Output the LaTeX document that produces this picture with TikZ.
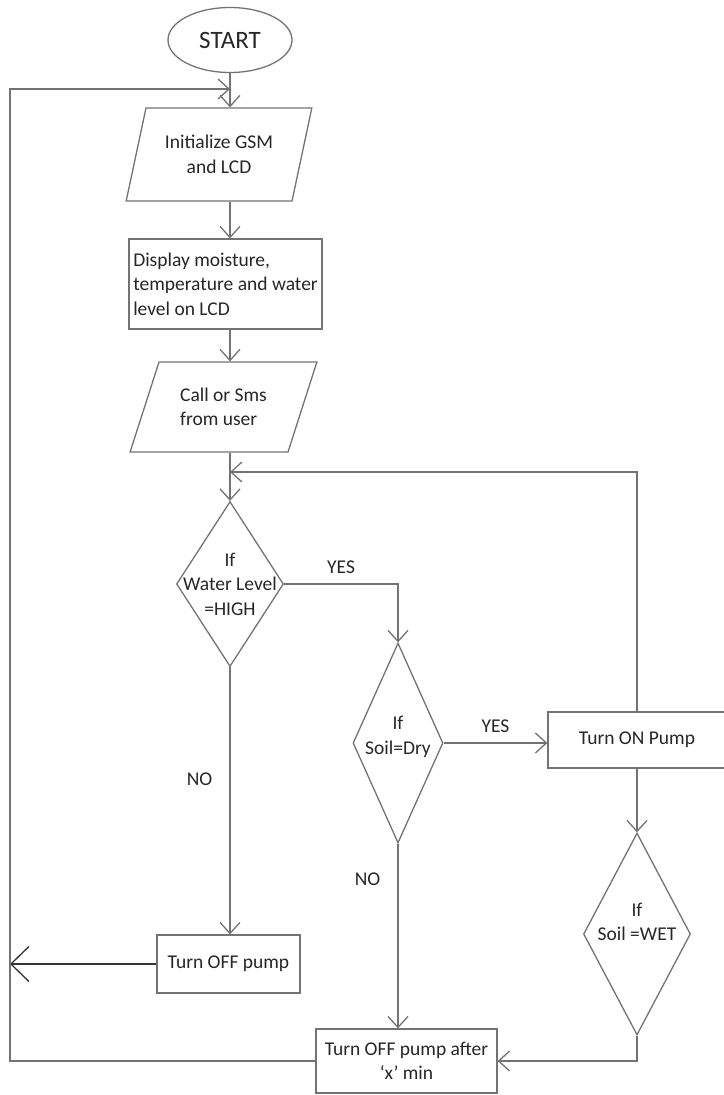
\documentclass[tikz,border=0pt]{standalone}
\usepackage{fontspec}
\setmainfont{Carlito}
\usetikzlibrary{shapes.geometric,arrows.meta}

\begin{document}
\begin{tikzpicture}
        [x=1pt, y=-1pt, font=\fontsize{19.5}{24.5}\selectfont, text=black!85,
         box/.style={draw=black!55, line width=1.3pt, rectangle, inner sep=2pt},
         io/.style={draw=black!55, line width=1.3pt, trapezium, trapezium stretches=true, inner sep=0},
         dec/.style={draw=black!55, line width=1.3pt, diamond, inner sep=0},
         flow/.style={draw=black!55, line width=1.3pt, -{Straight Barb[length=11pt, width=20pt]}},
         bigflow/.style={flow, draw=black!80, -{Straight Barb[length=18pt, width=35pt]}},
         lab/.style={inner sep=2pt}]

        \useasboundingbox (0,0) rectangle (723,1095);

        \node[draw=black!55, line width=1.3pt, ellipse, minimum width=124pt, minimum height=65pt, font=\fontsize{25}{30}\selectfont] (start) at (230,40) {START};
        \node[io, trapezium left angle=69, trapezium right angle=111, minimum width=186pt, minimum height=93pt, align=center] (init) at (219,154.5) {Initialize GSM\\and LCD};
        \node[box, minimum width=193pt, minimum height=90pt, align=left] (disp) at (225.5,284) {Display moisture,\\temperature and water\\level on LCD};
        \node[io, trapezium left angle=63, trapezium right angle=117, minimum width=187pt, minimum height=90pt, align=left] (call) at (223.5,407) {Call or Sms\\from user};
        \node[dec, minimum width=107pt, minimum height=165pt, label={[align=center]center:{If\\Water Level\\=HIGH}}] (wl) at (230,584) {};
        \node[dec, minimum width=90pt, minimum height=200pt, label={[align=center, yshift=6pt]center:{If\\Soil=Dry}}] (dry) at (398,743) {};
        \node[box, minimum width=178pt, minimum height=56pt] (on) at (637,740) {Turn ON Pump};
        \node[dec, minimum width=107pt, minimum height=202pt, label={[align=center, yshift=12pt]center:{If\\Soil =WET}}] (wet) at (637,934) {};
        \node[box, minimum width=143pt, minimum height=58pt] (off) at (228.5,964) {Turn OFF pump};
        \node[box, minimum width=181pt, minimum height=64pt, align=center] (offx) at (406.5,1061) {Turn OFF pump after\\`x' min};

        \coordinate (top) at (230,89);
        \coordinate (lc) at (10,89);
        \coordinate (mg) at (230,472);

        \draw[flow] (start) -- (init.north -| start);
        \draw[flow] (init.south -| start) -- (disp.north -| start);
        \draw[flow] (disp.south -| start) -- (call.north -| start);
        \draw[flow] (call.south -| start) -- (wl.north);
        \draw[flow] (on.north) |- (mg);
        \draw[flow] (wl.east) -| node[lab, pos=0.25, above=8pt] {YES} (dry.north);
        \draw[flow] (wl.south) -- node[lab, pos=0.42, left=15pt] {NO} (wl.south |- off.north);
        \draw[flow] (dry.east) -- node[lab, above=8pt] {YES} (dry.east -| on.west);
        \draw[flow] (dry.south) -- node[lab, pos=0.19, left=15pt] {NO} (dry.south |- offx.north);
        \draw[flow] (on.south -| wet) -- (wet.north);
        \draw[flow] (wet.south) |- (offx.east);
        \draw[bigflow] (off.west) -- (off.west -| lc);
        \draw[flow] (offx.west) -| (lc) -- (top);

\end{tikzpicture}
\end{document}
